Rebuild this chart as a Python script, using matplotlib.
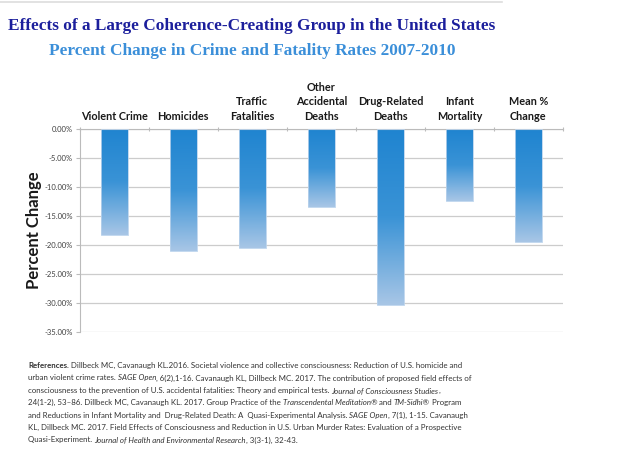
import numpy as np
import matplotlib.pyplot as plt
from matplotlib.colors import LinearSegmentedColormap

categories = ['Violent Crime', 'Homicides', 'Traffic\nFatalities', 'Other\nAccidental\nDeaths',
              'Drug-Related\nDeaths', 'Infant\nMortality', 'Mean %\nChange']
pct_change = [-18.3, -21.1, -20.6, -13.4, -30.4, -12.4, -19.4]
yticks = [0, -5, -10, -15, -20, -25, -30, -35]

title = 'Effects of a Large Coherence-Creating Group in the United States'
subtitle = 'Percent Change in Crime and Fatality Rates 2007-2010'

# reference text, segments of (text, style)
ref_lines = [
    [('References', 'bold'), ('. Dillbeck MC, Cavanaugh KL.2016. Societal violence and collective consciousness: Reduction of U.S. homicide and', 'normal')],
    [('urban violent crime rates. ', 'normal'), ('SAGE Open', 'italic'), (', 6(2),1-16. Cavanaugh KL, Dillbeck MC. 2017. The contribution of proposed field effects of', 'normal')],
    [('consciousness to the prevention of U.S. accidental fatalities: Theory and empirical tests. ', 'normal'), ('Journal of Consciousness Studies', 'italic'), (',', 'normal')],
    [('24(1-2), 53\u201386. Dillbeck MC, Cavanaugh KL. 2017. Group Practice of the ', 'normal'), ('Transcendental Meditation\u00ae', 'italic'), (' and ', 'normal'), ('TM-Sidhi\u00ae', 'italic'), (' Program', 'normal')],
    [('and Reductions in Infant Mortality and  Drug-Related Death: A  Quasi-Experimental Analysis. ', 'normal'), ('SAGE Open', 'italic'), (', 7(1), 1-15. Cavanaugh', 'normal')],
    [('KL, Dillbeck MC. 2017. Field Effects of Consciousness and Reduction in U.S. Urban Murder Rates: Evaluation of a Prospective', 'normal')],
    [('Quasi-Experiment. ', 'normal'), ('Journal of Health and Environmental Research', 'italic'), (', 3(3-1), 32-43.', 'normal')],
]

fig = plt.figure(figsize=(6.24, 4.72), dpi=100)
ax = fig.add_axes([0.128, 0.2966, 0.774, 0.4301])

x = np.arange(len(categories))
bars = ax.bar(x, pct_change, width=0.39, color='none', edgecolor='#b9d2ec', linewidth=0.6, zorder=3)

cmap = LinearSegmentedColormap.from_list('bl', ['#1f84d0', '#3a93d6', '#a8c6e6'])
grad = np.linspace(0, 1, 256).reshape(-1, 1)
for b in bars:
    l = b.get_x()
    r = l + b.get_width()
    ax.imshow(grad, cmap=cmap, extent=(l, r, b.get_y() + b.get_height(), b.get_y()),
              origin='upper', aspect='auto', zorder=2)

ax.set_xlim(-0.5, len(categories) - 0.5)
ax.set_ylim(-35, 0)
ax.set_yticks(yticks)
ax.set_yticklabels(['%.2f%%' % v for v in yticks], fontsize=5.5, color='#404040', family='Lato')
ax.grid(axis='y', color='#cccccc', linewidth=0.9, zorder=0)
ax.set_axisbelow(True)
ax.tick_params(axis='y', length=3, width=0.8, color='#bbbbbb', pad=2)

ax.xaxis.tick_top()
ax.set_xticks(x)
ax.set_xticklabels(categories, fontsize=7.8, fontweight='bold', family='Lato', color='#1a1a1a',
                   multialignment='center', linespacing=1.4)
ax.tick_params(axis='x', which='major', length=0, pad=5)
ax.set_xticks(np.arange(len(categories) + 1) - 0.5, minor=True)
ax.tick_params(axis='x', which='minor', length=3, width=0.8, color='#bbbbbb', top=True, direction='inout')

for s in ['right', 'bottom']:
    ax.spines[s].set_visible(False)
ax.spines['top'].set_color('#bbbbbb')
ax.spines['left'].set_color('#bbbbbb')

ax.set_ylabel('Percent Change', fontsize=12, fontweight='bold', family='Lato', color='#1a1a1a', labelpad=2)

fig.text(0.404, 0.945, title, ha='center', va='center', fontsize=12.4, fontweight='bold',
         family='Liberation Serif', color='#1c1f9c')
fig.text(0.404, 0.893, subtitle, ha='center', va='center', fontsize=12.4, fontweight='bold',
         family='Liberation Serif', color='#3b8fd9')
fig.add_artist(plt.Line2D([0, 0.805], [0.996, 0.996], color='#dddddd', linewidth=1.2))

# references block, placing styled segments one after another
fig.canvas.draw()
renderer = fig.canvas.get_renderer()
x0 = 28 / 624
y0 = 1 - 368 / 472
dy = 12.4 / 472
for i, line in enumerate(ref_lines):
    xc = x0
    for txt, style in line:
        kw = dict(fontsize=5.7, family='Lato', color='#333333', va='baseline', ha='left')
        if style == 'bold':
            kw['fontweight'] = 'bold'
        elif style == 'italic':
            kw['fontstyle'] = 'italic'
        t = fig.text(xc, y0 - i * dy, txt, **kw)
        bb = t.get_window_extent(renderer)
        xc += bb.width / fig.bbox.width

fig.savefig('out.png', dpi=100)
